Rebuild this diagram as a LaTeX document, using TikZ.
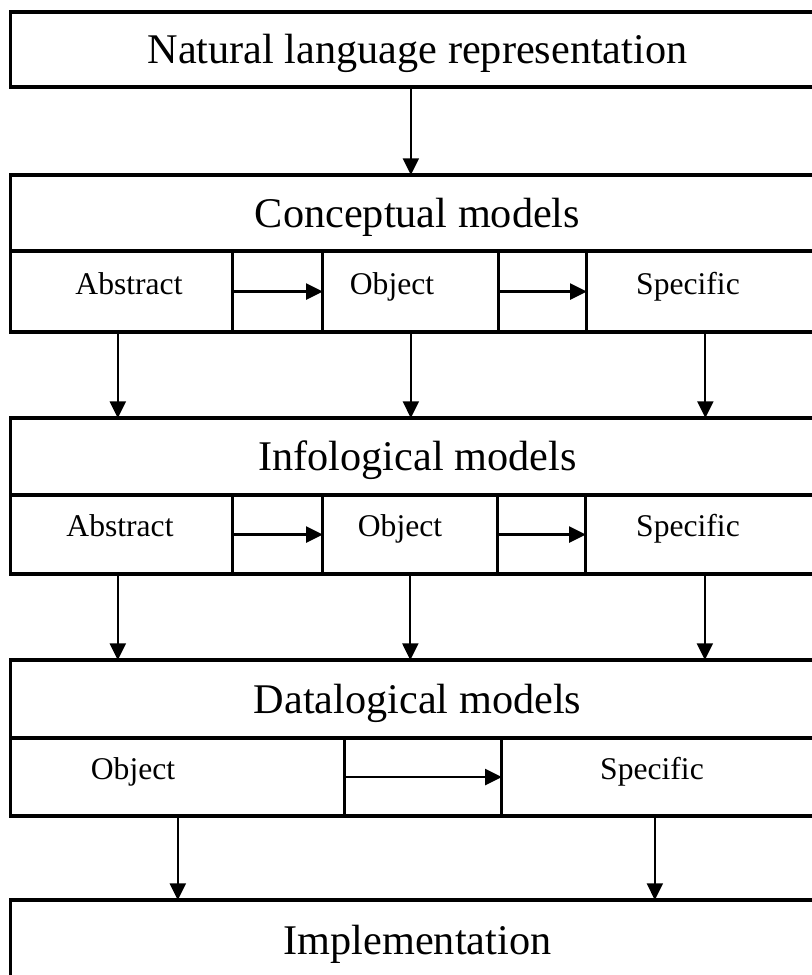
\documentclass[tikz,border=0pt]{standalone}
\usepackage{fontspec}
\setmainfont{Liberation Serif}
\usepackage{tikz}
\usetikzlibrary{arrows.meta, positioning}

\begin{document}
\begin{tikzpicture}[
  x=0.75pt, y=-0.75pt,
  >={Triangle[length=12.5pt, width=12pt]},
  headbox/.style={
    rectangle, draw=black, line width=2.3pt, inner sep=0pt, outer sep=0pt,
    minimum width=610pt,
    font=\fontsize{31.7}{36}\selectfont, text height=21pt, text depth=0pt
  },
  cell/.style={rectangle, draw=black, line width=2.3pt, inner sep=0pt, outer sep=0pt},
  sublab/.style={anchor=base, inner sep=0pt, font=\fontsize{23.7}{28}\selectfont},
  flow/.style={->, line width=1.6pt}
]
\useasboundingbox (0,0) rectangle (812,975);
\clip (0,0) rectangle (812,975);

% natural language
\node[headbox, minimum height=56.25pt] (nat) at (417.5,49.5) {Natural language representation};

% conceptual models
\node[headbox, minimum height=57pt, below=66pt of nat] (cHead) {Conceptual models};
\node[cell, minimum width=166.5pt, minimum height=60.75pt, anchor=north west] (cAbs) at (cHead.south west) {};
\node[cell, minimum width=67.5pt, minimum height=60.75pt, right=0pt of cAbs] (cGapA) {};
\node[cell, minimum width=132pt, minimum height=60.75pt, right=0pt of cGapA] (cObj) {};
\node[cell, minimum width=66pt, minimum height=60.75pt, right=0pt of cObj] (cGapB) {};
\node[cell, minimum width=177.75pt, minimum height=60.75pt, right=0pt of cGapB] (cSpec) {};
\node[sublab] (cAbsT) at (129,294) {Abstract};
\node[sublab] (cObjT) at (392,294) {Object};
\node[sublab] (cSpecT) at (688,294) {Specific};

% infological models
\node[headbox, minimum height=57.75pt, anchor=north west] (iHead) at ([yshift=-64.5pt]cAbs.south west) {Infological models};
\node[cell, minimum width=166.5pt, minimum height=59.25pt, anchor=north west] (iAbs) at (iHead.south west) {};
\node[cell, minimum width=67.5pt, minimum height=59.25pt, right=0pt of iAbs] (iGapA) {};
\node[cell, minimum width=131.25pt, minimum height=59.25pt, right=0pt of iGapA] (iObj) {};
\node[cell, minimum width=66pt, minimum height=59.25pt, right=0pt of iObj] (iGapB) {};
\node[cell, minimum width=178.5pt, minimum height=59.25pt, right=0pt of iGapB] (iSpec) {};
\node[sublab] (iAbsT) at (120,536) {Abstract};
\node[sublab] (iObjT) at (400,536) {Object};
\node[sublab] (iSpecT) at (688,536) {Specific};

% datalogical models
\node[headbox, minimum height=58.5pt, anchor=north west] (dHead) at ([yshift=-64.5pt]iAbs.south west) {Datalogical models};
\node[cell, minimum width=250.5pt, minimum height=58.5pt, anchor=north west] (dObj) at (dHead.south west) {};
\node[cell, minimum width=117.75pt, minimum height=58.5pt, right=0pt of dObj] (dGap) {};
\node[cell, minimum width=241.5pt, minimum height=58.5pt, right=0pt of dGap] (dSpec) {};
\node[sublab] (dObjT) at (133,779) {Object};
\node[sublab] (dSpecT) at (652,779) {Specific};

% implementation
\node[headbox, minimum height=60pt, anchor=north west] (impl) at ([yshift=-63pt]dObj.south west) {Implementation};

% arrows
\draw[flow] (nat.south -| cObj) -- (cHead.north -| cObj);

\draw[flow] (cGapA.west) -- (cGapA.east);
\draw[flow] (cGapB.west) -- (cGapB.east);
\draw[flow] (iGapA.west) -- (iGapA.east);
\draw[flow] (iGapB.west) -- (iGapB.east);
\draw[flow] (dGap.west) -- (dGap.east);

\coordinate (cAbsOut) at ([xshift=-3pt]cAbs.south);
\coordinate (iAbsOut) at ([xshift=-3pt]iAbs.south);
\draw[flow] (cAbsOut) -- (cAbsOut |- iHead.north);
\draw[flow] (cObj.south) -- (cObj.south |- iHead.north);
\draw[flow] (cSpec.south) -- (cSpec.south |- iHead.north);

\draw[flow] (iAbsOut) -- (iAbsOut |- dHead.north);
\draw[flow] (iObj.south) -- (iObj.south |- dHead.north);
\draw[flow] (iSpec.south) -- (iSpec.south |- dHead.north);

\coordinate (dSpecOut) at ([xshift=-6pt]dSpec.south);
\draw[flow] (dObj.south) -- (dObj.south |- impl.north);
\draw[flow] (dSpecOut) -- (dSpecOut |- impl.north);
\end{tikzpicture}
\end{document}
